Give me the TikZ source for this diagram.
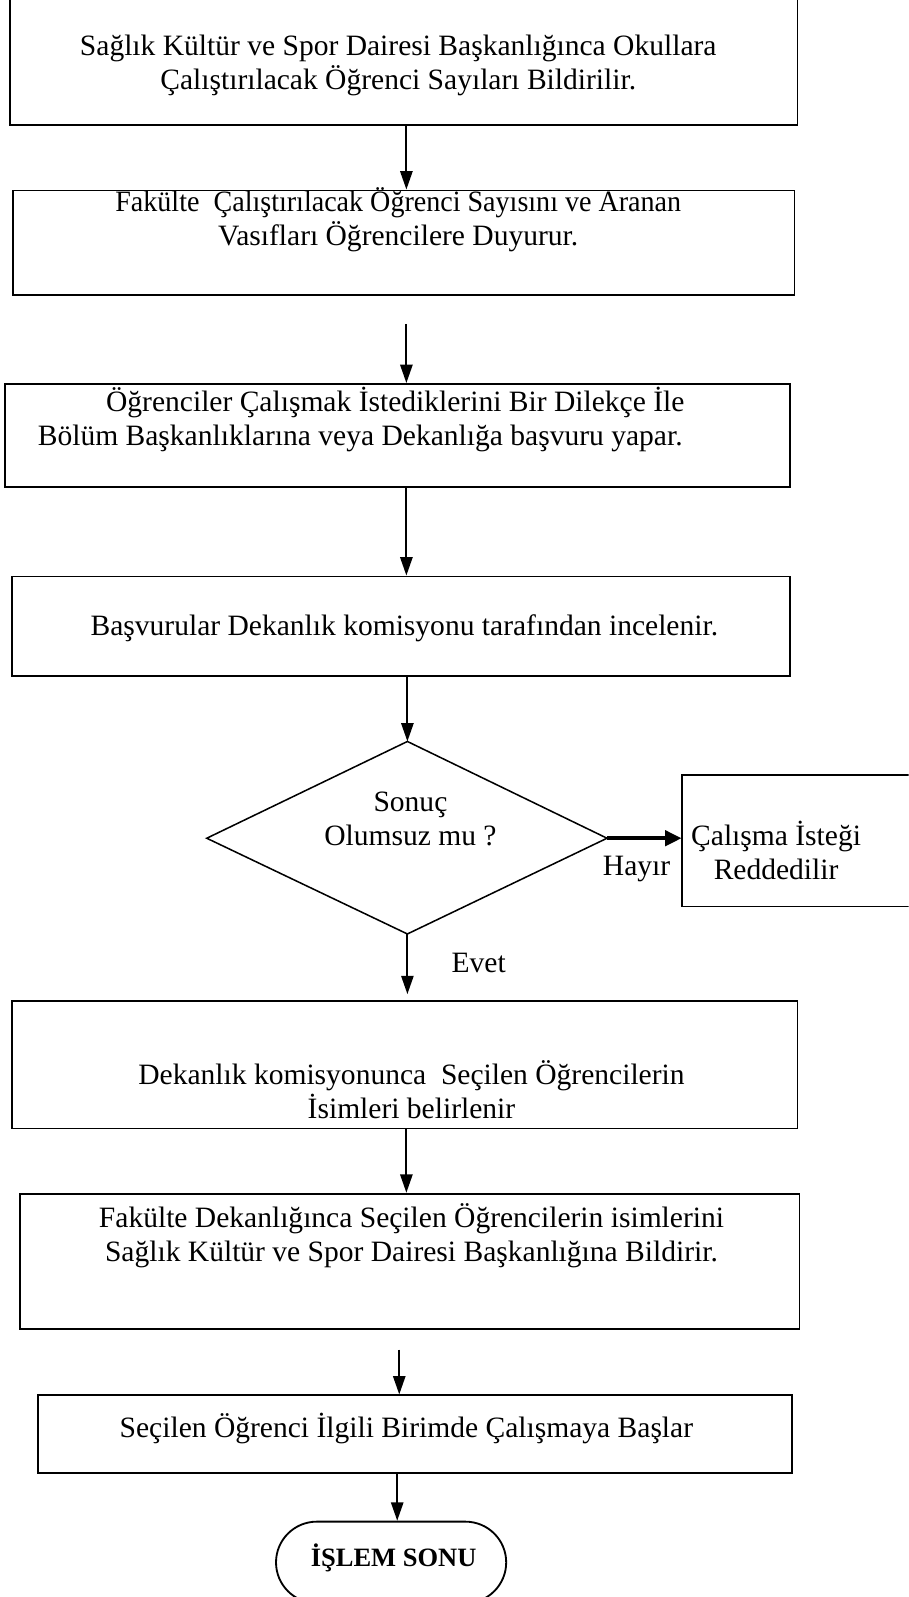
\documentclass[tikz,border=0pt]{standalone}
\usepackage{fontspec}
\setmainfont{Liberation Serif}
\usetikzlibrary{arrows.meta,shapes.misc}
\begin{document}
\begin{tikzpicture}[x=1pt,y=-1pt,
  box/.style={draw,line width=1.8pt,inner sep=0pt},
  txt/.style={align=center,font=\fontsize{29}{33}\selectfont,inner sep=0pt},
  arr/.style={line width=1.9pt,-{Triangle[length=18pt,width=12pt]}},
  thickarr/.style={line width=3.4pt,-{Triangle[length=16pt,width=15pt]}},
]
\useasboundingbox (0,0) rectangle (892,1568);
\clip (0,0) rectangle (892,1568);

% process boxes
\node[box,minimum width=773pt,minimum height=128pt] (b1) at (396.5,59) {};
\node[txt] (t1) at (391,64) {Sağlık Kültür ve Spor Dairesi Başkanlığınca Okullara\\Çalıştırılacak Öğrenci Sayıları Bildirilir.};

\node[box,minimum width=767pt,minimum height=103pt] (b2) at (396.5,238.5) {};
\node[txt] (t2) at (391,216) {\scalebox{0.95}[1]{Fakülte\ \ Çalıştırılacak Öğrenci Sayısını ve Aranan}\\Vasıfları Öğrencilere Duyurur.};

\node[box,minimum width=771pt,minimum height=101pt] (b3) at (390.5,427.5) {};
\node[txt,align=left,anchor=west] (t3) at (37,412) {\hspace*{67pt}Öğrenciler Çalışmak İstediklerini Bir Dilekçe İle\\Bölüm Başkanlıklarına veya Dekanlığa başvuru yapar.};

\node[box,minimum width=764pt,minimum height=98pt] (b4) at (394,615) {};
\node[txt] (t4) at (397,617) {Başvurular Dekanlık komisyonu tarafından incelenir.};

% decision
\coordinate (dT) at (400,728);
\coordinate (dL) at (203,823);
\coordinate (dR) at (596,823);
\coordinate (dB) at (400,917);
\draw[line width=1.5pt] (dT) -- (dR) -- (dB) -- (dL) -- cycle;
\node[txt] (td) at (403,804) {Sonuç\\Olumsuz mu ?};

\node[box,minimum width=225pt,minimum height=129pt] (br) at (782.5,825.5) {};
\node[txt] (tr) at (762,835) {Çalışma İsteği\\Reddedilir};

\node[box,minimum width=771pt,minimum height=125pt] (b5) at (397.5,1045.5) {};
\node[txt] (t5) at (404,1070) {Dekanlık komisyonunca\ \ Seçilen Öğrencilerin\\İsimleri belirlenir};

\node[box,minimum width=765pt,minimum height=133pt] (b6) at (402.5,1238.5) {};
\node[txt] (t6) at (404,1213) {Fakülte Dekanlığınca Seçilen Öğrencilerin isimlerini\\Sağlık Kültür ve Spor Dairesi Başkanlığına Bildirir.};

\node[box,minimum width=741pt,minimum height=76pt] (b7) at (407.5,1408) {};
\node[txt] (t7) at (399,1403) {Seçilen Öğrenci İlgili Birimde Çalışmaya Başlar};

% terminator
\node[draw,line width=1.8pt,rounded rectangle,minimum width=226pt,minimum height=80pt,inner sep=0pt] (end) at (384,1534) {};
\node[font=\fontsize{26}{33}\selectfont\bfseries,inner sep=0pt] (tend) at (386.5,1530) {İŞLEM SONU};

% connectors
\coordinate (s2) at (399,318);
\coordinate (s6) at (392,1325);
\draw[arr] (b1.south -| 399,0) -- (b2.north -| 399,0);
\draw[arr] (s2) -- (b3.north -| s2);
\draw[arr] (b3.south -| 399,0) -- (b4.north -| 399,0);
\draw[arr] (b4.south -| dT) -- (dT);
\draw[thickarr] (dR) -- (br.west |- dR);
\draw[arr,shorten >=6pt] (dB) -- (b5.north -| dB);
\draw[arr] (b5.south -| 399,0) -- (b6.north -| 399,0);
\draw[arr] (s6) -- (b7.north -| s6);
\draw[arr] (b7.south -| 390,0) -- (end.north -| 390,0);

% branch labels
\node[txt] (lh) at (625,853) {Hayır};
\node[txt] (le) at (470,945) {Evet};
\end{tikzpicture}
\end{document}
